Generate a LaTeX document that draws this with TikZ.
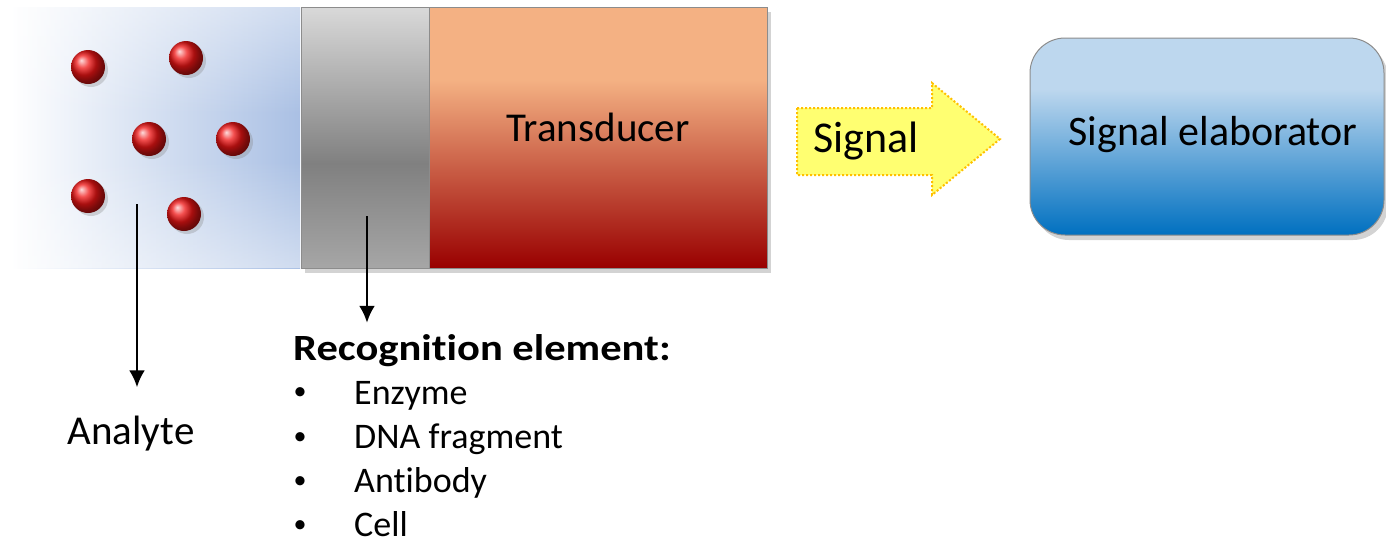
\documentclass[tikz,border=0pt]{standalone}
\usepackage{fontspec}
\setmainfont[Ligatures=NoCommon]{Carlito}
\newfontfamily\recfont[Ligatures=NoCommon,FakeStretch=1.15]{Carlito}
\usepackage{xcolor}
\usepackage{tikz}
\usetikzlibrary{calc,shapes,backgrounds,arrows,arrows.meta,shadows,positioning,fadings}

\definecolor{solblue}{HTML}{AAC0E4}
\definecolor{recgray}{HTML}{808080}
\definecolor{recgraytop}{HTML}{D9D9D9}
\definecolor{recgraybot}{HTML}{A6A6A6}
\definecolor{tdpeach}{HTML}{F4B183}
\definecolor{tdred}{HTML}{990000}
\definecolor{elabtop}{HTML}{BDD7EE}
\definecolor{elabbot}{HTML}{0070C0}
\definecolor{sigyellow}{HTML}{FFFF71}
\definecolor{sigorange}{HTML}{FFC000}
\definecolor{ballred}{HTML}{F01515}

\pgfdeclareverticalshading{recshade}{100bp}{color(0bp)=(recgraybot); color(25bp)=(recgraybot); color(45bp)=(recgray); color(75bp)=(recgraytop); color(100bp)=(recgraytop)}
\pgfdeclareverticalshading{tdshade}{100bp}{color(0bp)=(tdred); color(25bp)=(tdred); color(61bp)=(tdpeach); color(100bp)=(tdpeach)}
\pgfdeclareverticalshading{elabshade}{100bp}{color(0bp)=(elabbot); color(25bp)=(elabbot); color(62bp)=(elabtop); color(100bp)=(elabtop)}

\tikzfading[name=fadetop, top color=transparent!55, bottom color=transparent!100]
\tikzfading[name=fadebot, top color=transparent!100, bottom color=transparent!55]

\begin{document}
\begin{tikzpicture}[x=1pt,y=-1pt]

        \tikzstyle{block}=[draw=black!45,line width=1pt,inner sep=0pt,
          drop shadow={shadow xshift=4pt,shadow yshift=-5pt,opacity=.35}]
        \tikzstyle{lbl}=[font=\fontsize{41}{48}\selectfont,text=black,inner sep=0pt]
        \tikzstyle{item}=[font=\fontsize{36}{42}\selectfont,text=black,inner sep=0pt,anchor=base west]
        \tikzstyle{pointer}=[-{Latex[length=17pt,width=16pt]},line width=2.8pt]
        \useasboundingbox (0,0) rectangle (1386,544);

        % sample with the analyte
        \shade[left color=white,right color=solblue] (11,7) rectangle (300,268);
        \fill[white,path fading=fadetop] (11,7) rectangle (300,115);
        \fill[white,path fading=fadebot] (11,160) rectangle (300,268);
        \foreach \x/\y in {88/67,186/58,149/139,233/139,88/196,184/214}
          \shade[ball color=ballred,drop shadow={shadow xshift=3pt,shadow yshift=-3pt,opacity=.3}] (\x,\y) circle (17);

        \node[block,shading=recshade,minimum width=128,minimum height=261] (recblock) at (365,137.5) {};
        \node[block,shading=tdshade,minimum width=338,minimum height=261] (transducer) at (598,137.5) {};
        \node[lbl,anchor=base] at (transducer.center |- 0,141) {Transducer};

        \draw[sigorange,fill=sigyellow,dotted,line width=2pt]
          (797,108) -- (932,108) -- (932,83) -- (1000,139) -- (932,195) -- (932,175) -- (797,175) -- cycle;
        \node[lbl,font=\fontsize{44}{50}\selectfont,anchor=base west] (signal) at (813,152) {Signal};

        \node[block,shading=elabshade,rounded corners=35pt,minimum width=354,minimum height=197] (elab) at (1207,136.5) {};
        \node[lbl,font=\fontsize{42}{48}\selectfont,anchor=base] at (1213,145) {Signal elaborator};

        \node[lbl,anchor=base] (analyte) at (131,444) {Analyte};
        \node[item,font=\fontsize{37}{42}\recfont\bfseries] (recog) at (293,360) {Recognition element:};
        \foreach \t [count=\i] in {Enzyme,DNA fragment,Antibody,Cell} {
          \node[item] (item\i) at (354,404+44.3*\i-44.3) {\t};
          \node[item,anchor=center,font=\fontsize{26}{30}\selectfont] at (300,394+44.3*\i-44.3) {•};
        }

        \coordinate (atail) at (137,204);
        \coordinate (rtail) at (367,216);
        \draw[pointer,shorten >=28pt] (atail) -- (atail |- analyte.north);
        \draw[pointer,shorten >=11pt] (rtail) -- (rtail |- recog.north);
      \end{tikzpicture}
\end{document}
